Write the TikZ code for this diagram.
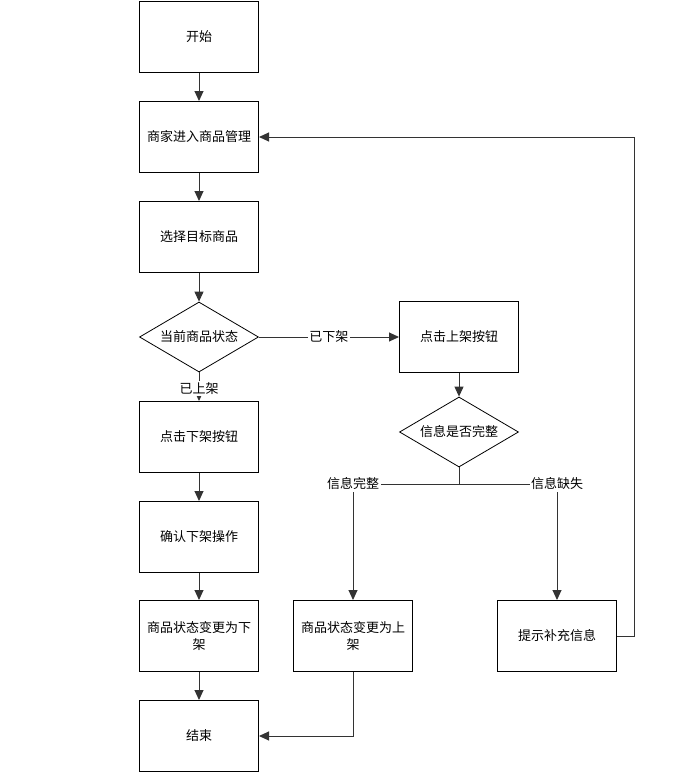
\documentclass[tikz,border=0pt]{standalone}
\usepackage{fontspec}
\setmainfont{Noto Sans CJK SC}
\usetikzlibrary{shapes.geometric,arrows.meta}

\tikzset{
  proc/.style={draw=black,line width=1pt,minimum width=119pt,minimum height=71pt,align=center,inner sep=2pt,font=\fontsize{13}{17}\selectfont},
  decide/.style={draw=black,line width=0.8pt,diamond,aspect=1.7,minimum width=119pt,minimum height=70pt,inner sep=1pt,font=\fontsize{13}{17}\selectfont},
  flow/.style={draw=black!80,line width=1pt,-{Triangle[width=9pt,length=10pt]}},
  lbl/.style={fill=white,inner sep=1.5pt,font=\fontsize{13}{15}\selectfont}
}

\begin{document}
\begin{tikzpicture}[x=1pt,y=-1pt]
\useasboundingbox (0,0) rectangle (681,777);
% left column
\node[proc] (start) at (199,37) {开始};
\node[proc] (enter) at (199,137) {商家进入商品管理};
\node[proc] (select) at (199,237) {选择目标商品};
\node[decide] (state) at (199,337) {当前商品状态};
\node[proc] (offbtn) at (199,437) {点击下架按钮};
\node[proc] (confirm) at (199,537) {确认下架操作};
\node[proc] (setoff) at (199,636) {商品状态变更为下\\架};
\node[proc] (finish) at (199,736) {结束};
% right column
\node[proc] (onbtn) at (459,337) {点击上架按钮};
\node[decide] (check) at (459,432) {信息是否完整};
\node[proc] (seton) at (353,636) {商品状态变更为上\\架};
\node[proc] (hint) at (557,636) {提示补充信息};
\coordinate (split) at (459,484);
\coordinate (okc) at (353,484);
\coordinate (misc) at (557,484);
\coordinate (backtop) at (634,137);

\draw[flow] (start) -- (enter);
\draw[flow] (enter) -- (select);
\draw[flow] (select) -- (state);
\draw[flow] (state) -- node[lbl]{已下架} (onbtn);
\draw[flow] (state) -- node[lbl,pos=0.55]{已上架} (offbtn);
\draw[flow] (offbtn) -- (confirm);
\draw[flow] (confirm) -- (setoff);
\draw[flow] (setoff) -- (finish);
\draw[flow] (onbtn) -- (check);
\draw[flow] (check.south) -- (split) -- (okc) -- (seton);
\draw[flow] (split) -- (misc) -- (hint);
\node[lbl] at (okc) {信息完整};
\node[lbl] at (misc) {信息缺失};
\draw[flow] (hint.east) -| (backtop) -- (enter.east);
\draw[flow] (seton.south) |- (finish.east);
\end{tikzpicture}
\end{document}
